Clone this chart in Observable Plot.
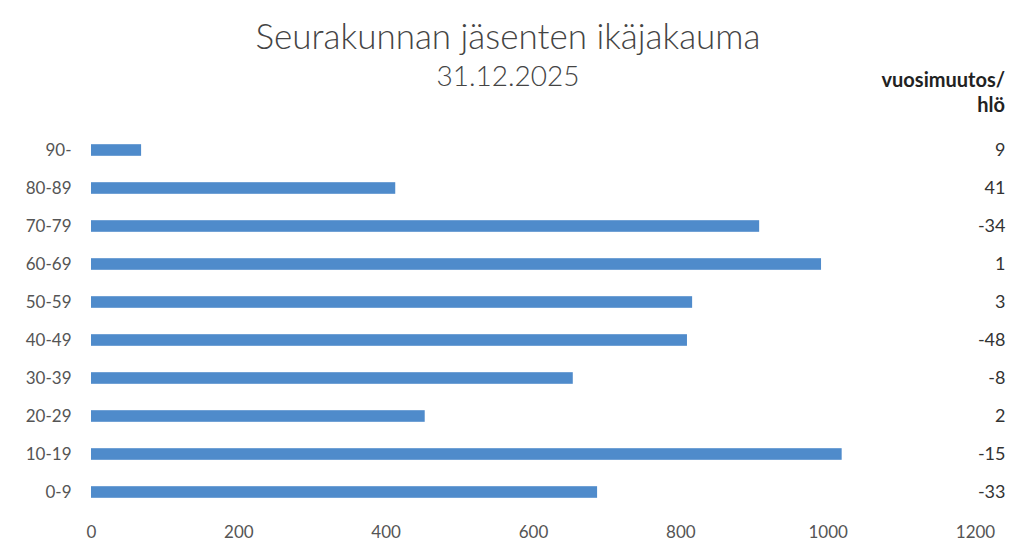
<!DOCTYPE html>
<html><head><meta charset="utf-8">
<script src="https://cdn.jsdelivr.net/npm/d3@7"></script>
<script src="https://cdn.jsdelivr.net/npm/@observablehq/plot@0.6"></script>
<style>
body{margin:0;background:#fff;font-family:Lato,"Open Sans",sans-serif;}
#wrap{position:relative;width:1016px;height:548px;overflow:hidden;background:#fff}
#head{position:relative;height:100px}
.t1{position:absolute;left:0;width:1016px;top:18px;text-align:center;font-size:35px;font-weight:300;color:#444;line-height:1}
.t2{position:absolute;left:0;width:1016px;top:61px;text-align:center;font-size:28px;font-weight:300;color:#444;line-height:1}
.rh{position:absolute;right:11px;top:67px;text-align:right;font-size:20px;font-weight:700;color:#222;line-height:25px}
.rh div{line-height:25px;height:25px}
#chart svg{display:block}
</style></head>
<body>
<div id="wrap">
  <div id="head">
    <div class="t1">Seurakunnan jäsenten ikäjakauma</div>
    <div class="t2">31.12.2025</div>
    <div class="rh"><div>vuosimuutos/</div><div>hlö</div></div>
  </div>
  <div id="chart"></div>
</div>
<script>
const ageGroups = ["90-","80-89","70-79","60-69","50-59","40-49","30-39","20-29","10-19","0-9"];
const members = [68,413,907,991,816,809,654,453,1019,687];
const yearlyChange = [9,41,-34,1,3,-48,-8,2,-15,-33];
const xTicks = [0,200,400,600,800,1000,1200];

const data = ageGroups.map((a,i)=>({age:a, v:members[i], c:yearlyChange[i]}));

const chart = Plot.plot({
  width:1016, height:448,
  marginLeft:91, marginRight:41, marginTop:29, marginBottom:36,
  x:{domain:[0,1200], ticks:xTicks, tickSize:0, tickPadding:13, label:null, tickFormat:d=>String(d)},
  y:{domain:ageGroups, padding:0, tickSize:0, tickPadding:20, label:null},
  style:{fontFamily:"Lato, 'Open Sans', sans-serif", fontSize:"17px", color:"#555", background:"white", overflow:"visible"},
  marks:[
    Plot.barX(data,{x:"v", y:"age", fill:"#4f8bcb", insetTop:13.2, insetBottom:13.2}),
    Plot.text(data,{y:"age", text:d=>String(d.c), frameAnchor:"right", textAnchor:"end", dx:30, fill:"#333", fontSize:18})
  ]
});
document.getElementById("chart").appendChild(chart);
</script>
</body></html>
